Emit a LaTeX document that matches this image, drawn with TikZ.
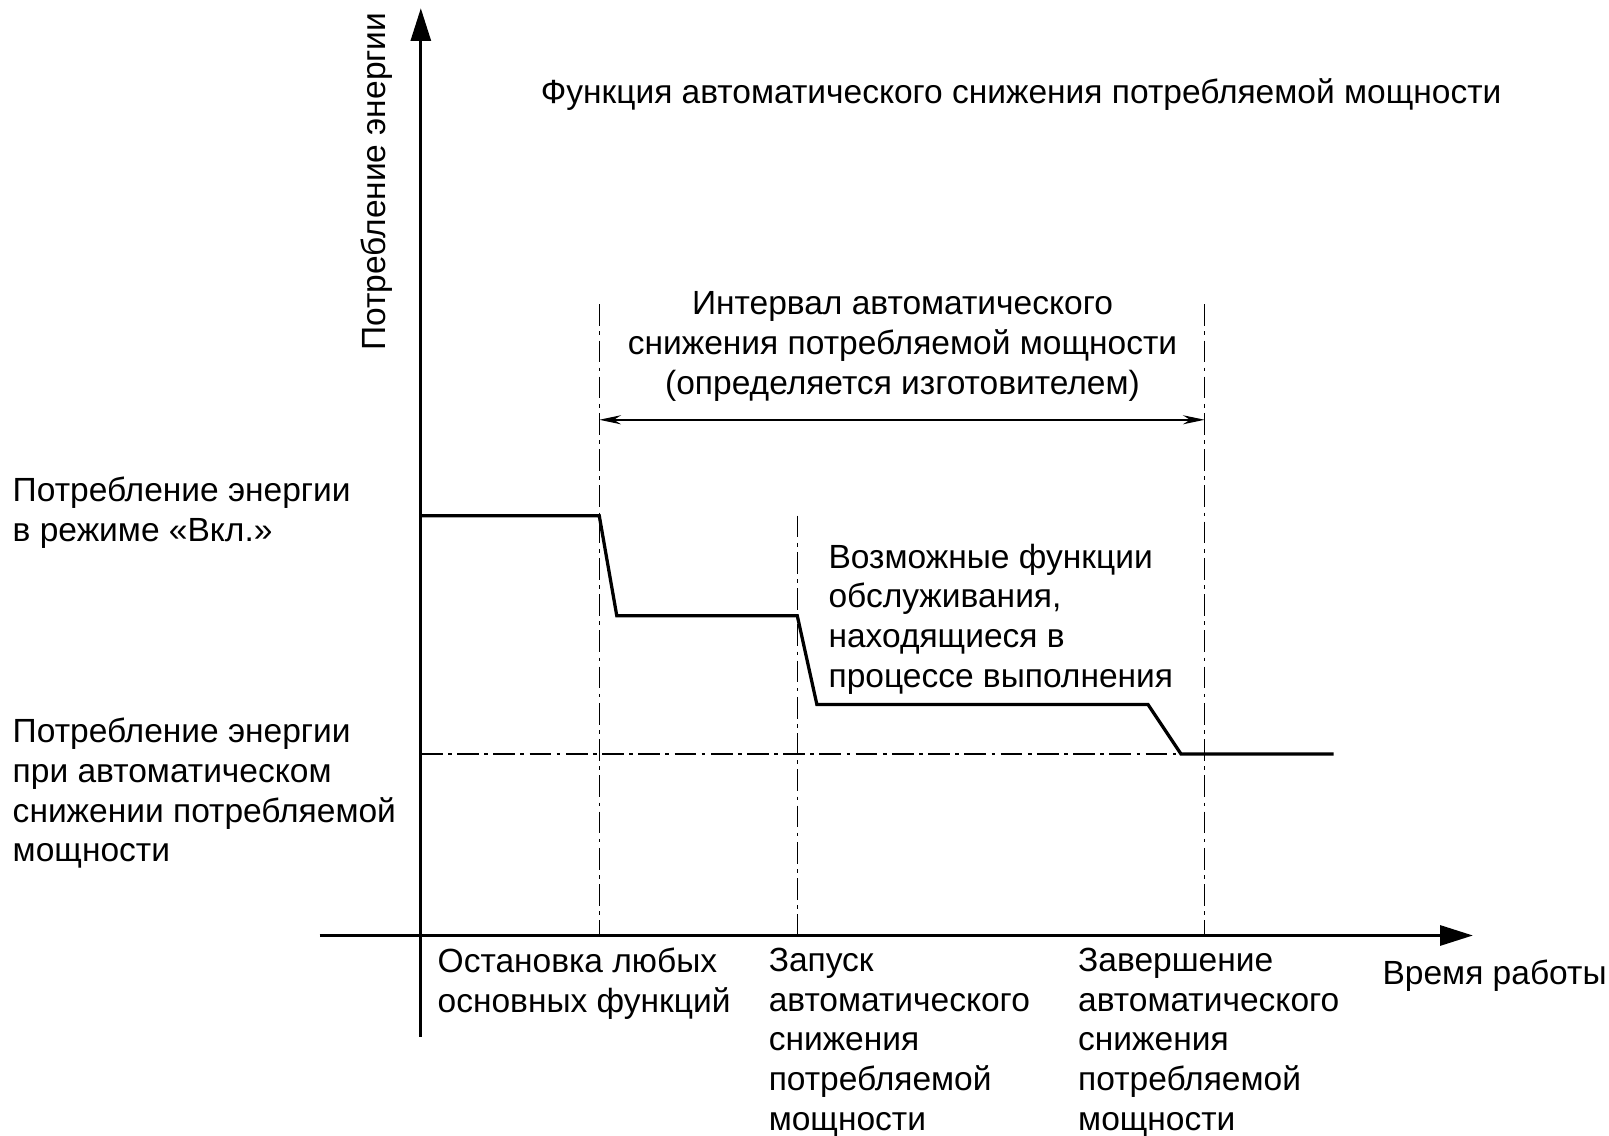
\documentclass[tikz,border=0pt]{standalone}
\usepackage{fontspec}
\setmainfont{Liberation Sans}
\usetikzlibrary{arrows.meta}
\begin{document}
\begin{tikzpicture}[x=0.02cm,y=-0.02cm,
    every node/.style = {font=\fontsize{18.5pt}{21.9pt}\selectfont, inner sep=0pt, align=left},
    axis/.style = {line width=1.6pt, -{Triangle[length=18pt,width=11pt]}},
    guide/.style = {line width=0.6pt, dash pattern=on 12pt off 3pt on 2pt off 3pt},
    curve/.style = {line width=1.8pt},
    span/.style = {line width=0.8pt, {Stealth[length=12pt,width=5pt]}-{Stealth[length=12pt,width=5pt]}}
  ]
\useasboundingbox (0,0) rectangle (1560,1101);
% axes
\coordinate (yb) at (408,1005);
\coordinate (yt) at (408,8);
\coordinate (xl) at (310,907);
\coordinate (xr) at (1428,907);
\draw[axis] (yb) -- (yt);
\draw[axis] (xl) -- (xr);
% guides
\coordinate (g1t) at (581,295); \coordinate (g1b) at (581,907);
\coordinate (g2t) at (773,500); \coordinate (g2b) at (773,907);
\coordinate (g3t) at (1168,295); \coordinate (g3b) at (1168,907);
\coordinate (hl) at (408,731); \coordinate (hr) at (1145,731);
\draw[guide] (g1t) -- (g1b);
\draw[guide] (g2t) -- (g2b);
\draw[guide] (g3t) -- (g3b);
\draw[guide] (hl) -- (hr);
\coordinate (sl) at (581,407); \coordinate (sr) at (1168,407);
\draw[span] (sl) -- (sr);
% power curve
\draw[curve] (408,500) -- (581,500) -- (598,597) -- (773,597) -- (792,683)
  -- (1113,683) -- (1145,731) -- (1293,731);
% labels
\node (title) at (990,92) {Функция автоматического снижения потребляемой мощности};
\node[rotate=90] (ylab) at (365,176) {Потребление энергии};
\node[align=center] (interval) at (875,336) {Интервал автоматического\\снижения потребляемой мощности\\(определяется изготовителем)};
\node[anchor=north west] (onmode) at (12,462) {Потребление энергии\\в режиме «Вкл.»};
\node[anchor=north west] (lowmode) at (12,696) {Потребление энергии\\при автоматическом\\снижении потребляемой\\мощности};
\node[anchor=north west] (service) at (803,527) {Возможные функции\\обслуживания,\\находящиеся в\\процессе выполнения};
\node[anchor=north west] (stop) at (424,919) {Остановка любых\\основных функций};
\node[anchor=north west] (start) at (745,919) {Запуск\\автоматического\\снижения\\потребляемой\\мощности};
\node[anchor=north west] (finish) at (1045,919) {Завершение\\автоматического\\снижения\\потребляемой\\мощности};
\node[anchor=east] (xlab) at (1558,946) {Время работы};
\end{tikzpicture}
\end{document}
